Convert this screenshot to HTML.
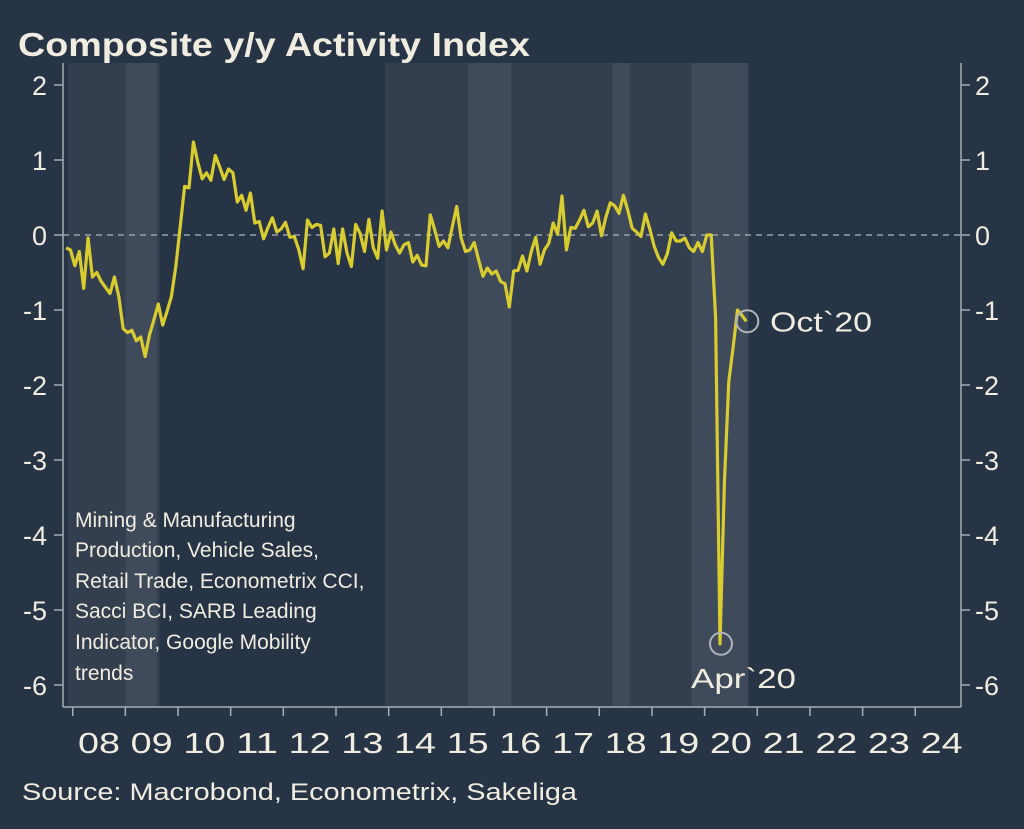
<!DOCTYPE html>
<html><head><meta charset="utf-8"><style>
html,body{margin:0;padding:0;background:#263445;}
svg{display:block;font-family:"Liberation Sans",sans-serif;}
</style></head><body>
<svg id="chart" width="1024" height="829" viewBox="0 0 1024 829" xmlns="http://www.w3.org/2000/svg">
<rect width="1024" height="829" fill="#263445"/>
<text x="18" y="56" font-size="33" font-weight="bold" fill="#f0ece0" textLength="512" lengthAdjust="spacingAndGlyphs">Composite y/y Activity Index</text>
<g id="bands"></g>
<g id="axes"></g>
<g id="series"></g>
<g font-size="21" fill="#f0ece0">
<text x="75" y="527">Mining &amp; Manufacturing</text>
<text x="75" y="557">Production, Vehicle Sales,</text>
<text x="75" y="588">Retail Trade, Econometrix CCI,</text>
<text x="75" y="618">Sacci BCI, SARB Leading</text>
<text x="75" y="649">Indicator, Google Mobility</text>
<text x="75" y="680">trends</text>
</g>
<text x="22" y="800" font-size="24" fill="#f0ece0" textLength="555" lengthAdjust="spacingAndGlyphs">Source: Macrobond, Econometrix, Sakeliga</text>
</svg>
<script>
const years = ["08","09","10","11","12","13","14","15","16","17","18","19","20","21","22","23","24"];
const yTicks = [2,1,0,-1,-2,-3,-4,-5,-6];
const bandStarts = [2007.9, 2013.93];
const bandEnds = [2009.65, 2020.83];
const lightStarts = [2009.0, 2015.5, 2018.25, 2019.75];
const lightEnds = [2009.6, 2016.33, 2018.58, 2020.83];
const startYear = 2007 + 10/12; // Nov 2007
const values = [
-0.17,-0.2,-0.41,-0.22,-0.71,-0.04,-0.56,-0.5,-0.62,-0.7,-0.78,-0.56,-0.82,-1.25,-1.3,-1.27,-1.41,-1.36,-1.62,-1.33,-1.13,-0.92,-1.2,-1.02,-0.82,-0.42,0.11,0.65,0.63,1.24,0.97,0.75,0.83,0.73,1.06,0.91,0.74,0.88,0.83,0.44,0.53,0.33,0.56,0.16,0.18,-0.05,0.1,0.23,0.04,0.08,0.17,-0.03,-0.02,-0.19,-0.45,0.2,0.1,0.14,0.13,-0.29,-0.24,0.08,-0.38,0.08,-0.24,-0.42,0.14,0.02,-0.22,0.21,-0.17,-0.31,
0.32,-0.2,0.04,-0.13,-0.24,-0.13,-0.1,-0.36,-0.27,-0.4,-0.41,0.27,0.07,-0.15,-0.08,-0.17,0.11,0.38,-0.04,-0.22,-0.2,-0.1,-0.33,-0.55,-0.44,-0.52,-0.48,-0.62,-0.65,-0.96,-0.48,-0.47,-0.28,-0.48,-0.22,-0.03,-0.39,-0.2,-0.11,0.16,0.01,0.52,-0.2,0.1,0.09,0.2,0.33,0.11,0.16,0.32,-0.01,0.24,0.43,0.39,0.29,0.53,0.33,0.09,0.04,-0.02,0.28,0.08,-0.15,-0.3,-0.39,-0.25,0.03,-0.08,-0.08,-0.04,-0.17,-0.22,
-0.1,-0.22,0.0,0.0,-1.1,-5.45,-3.3,-1.95,-1.5,-1.0,-1.07,-1.15];
const annotations = [{i:149,label:"Apr`20"},{i:155,label:"Oct`20"}];

const NS="http://www.w3.org/2000/svg";
const L=63,R=961,T=63,B=707;
const xT = t => 72.7 + 52.66*(t-2008);
const xI = i => xT(startYear + (i+0.5)/12);
const yV = v => 235 - 75*v;
function mk(tag,attrs,parent){const e=document.createElementNS(NS,tag);for(const k in attrs)e.setAttribute(k,attrs[k]);parent.appendChild(e);return e;}
const bands=document.getElementById('bands'),axes=document.getElementById('axes'),series=document.getElementById('series');
bandStarts.forEach((s,k)=>{const x0=Math.max(xT(s),68),x1=xT(bandEnds[k]);
 const r=mk('rect',{x:x0,y:T,width:x1-x0,height:B-T,fill:'#333f4e'},bands);
 
 });
lightStarts.forEach((s,k)=>{const x0=xT(s),x1=xT(lightEnds[k]);
 const r=mk('rect',{x:x0,y:T,width:x1-x0,height:B-T,fill:'#3f4a5a'},bands);
 
 });
let a=mk('line',{x1:L,y1:T,x2:L,y2:B,stroke:'#a7adb5','stroke-width':1.5},axes);

a=mk('line',{x1:R,y1:T,x2:R,y2:B,stroke:'#a7adb5','stroke-width':1.5},axes);

a=mk('line',{x1:L,y1:B,x2:R,y2:B,stroke:'#a7adb5','stroke-width':1.5},axes);

a=mk('line',{x1:L,y1:yV(0),x2:R,y2:yV(0),stroke:'#9aa1aa','stroke-width':1.5,'stroke-dasharray':'6,5'},axes);

yTicks.forEach(v=>{const y=yV(v);
 mk('line',{x1:L-9,y1:y,x2:L,y2:y,stroke:'#a7adb5','stroke-width':1.5},axes);
 mk('line',{x1:R,y1:y,x2:R+9,y2:y,stroke:'#a7adb5','stroke-width':1.5},axes);
 let t=mk('text',{x:47,y:y+10,'font-size':27,fill:'#f0ece0','text-anchor':'end'},axes);t.textContent=String(v);
 
 t=mk('text',{x:975,y:y+10,'font-size':27,fill:'#f0ece0','text-anchor':'start'},axes);t.textContent=String(v);
 });
years.forEach((lab,k)=>{const x=xT(2008+k);
 mk('line',{x1:x,y1:B,x2:x,y2:B+9,stroke:'#a7adb5','stroke-width':1.5},axes);
 const t=mk('text',{x:xT(2008+k+0.5)-21,y:753,'font-size':29,fill:'#f0ece0',textLength:42,lengthAdjust:'spacingAndGlyphs'},axes);t.textContent=lab;
 });
const d=values.map((v,i)=>(i?'L':'M')+xI(i).toFixed(1)+','+yV(v).toFixed(1)).join(' ');
const p=mk('path',{d:d,fill:'none',stroke:'#d8cc30','stroke-width':3.2,'stroke-linejoin':'round'},series);

annotations.forEach((an,k)=>{const cx=xI(an.i)+1,cy=yV(values[an.i]);
 const c=mk('circle',{cx:cx,cy:cy,r:11,fill:'none',stroke:'#b0b4ba','stroke-width':2},series);
 
 const t=mk('text',{'font-size':28,fill:'#f0ece0',lengthAdjust:'spacingAndGlyphs'},series);t.textContent=an.label;
 if(k===0){t.setAttribute('x',691);t.setAttribute('y',cy+44);t.setAttribute('textLength',105);}
 else{t.setAttribute('x',770);t.setAttribute('y',cy+10);t.setAttribute('textLength',102);}
 });
</script>
</body></html>
